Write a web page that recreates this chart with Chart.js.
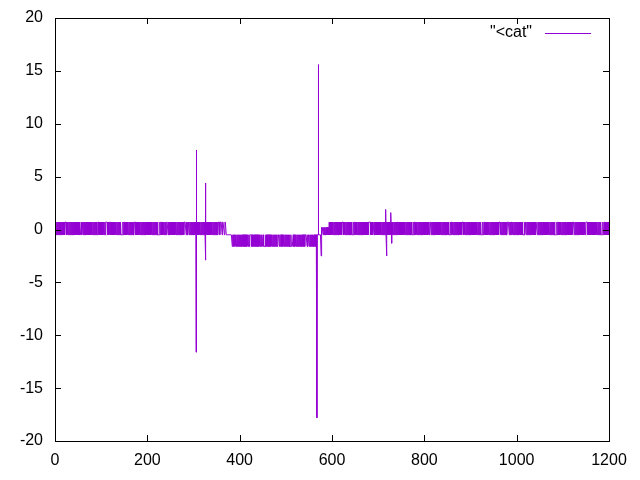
<!DOCTYPE html>
<html lang="en">
<head>
    <meta charset="UTF-8">
    <title>cat</title>
    <script src="https://cdn.jsdelivr.net/npm/chart.js@4.4.0/dist/chart.umd.min.js"></script>
    <style>
        html, body { margin: 0; padding: 0; background: #ffffff; }
        #wrap { width: 640px; height: 480px; }
    </style>
</head>
<body>
    <div id="wrap"><canvas id="catChart" width="640" height="480"></canvas></div>

    <script>
        // Levels (the trace mostly flips between two values)
        var levelValues = { H: 0.7, L: -0.5, M: 0.2, D: -1.6 };
        var sampleStep = 1;

        // One code per sample, groups of 10, one line per 100 x units
        var levelCodes = [
            "HLHLHLHLHL HLHLHLHLHL HLHHHLHLHL HLHLHLHLHL HLHLHLHLHL HLHLLLLHLH HLHLHLHLHL HLHLHLHLHL HLHLHLHLHL HLHHHLHLHL",
            "HLHLHLHLHL HHHHLHLHLH HLHLHLHLHL HLHLHLHLHL HLHLLLLHLH HLHLHLHLHL HLHLHLHLHL HLHHHLHLHL HLHLHLHLHL HLHLHLHLHL",
            "HLHLHLHLHL HLHLHLHLHL HLHLLLLHLH HLHLHLHLHL HLHHHLHLHL HLHLHLHLHL HLHLHLHLHL HLHLHLHLHL HHHHLHLHLH HLHLHLHLHL",
            "HLHLHLHLHL HLHLHLHLHL HLHLHLHLHL HLHLHLHLHL HLHLHLHLHL HLHLHHHLHH HHLHHHHLHH HLLLLLLLLL LLLLDLDLDL LDLDLDLDLD",
            "LDLDLDLDLD LDLDLDLDLD LDLLLLDLDL LDLDLDLDLD LDLDLDLDLD DLDDDDLDLD LDLDLDLDLD LDLDLDLDLD LDLLLLDLDL LDLDLDLDLD",
            "LDLDLDLDLD DLDDDDLDLD LDLDLDLDLD LDLDLDLDLD LDLLLLDLDL LDLDLDLDLD LDLDLDLDLL LLLLLLLMLM MLMLMLMLML MLMLHLHLHL",
            "HLHLHLHLHL HLHLHLHLHL HLHHHLHLHL HLHLHLHLHL HLHLLLLHLH HLHLHLHLHL HLHLHLHLHL HLHLHLHLHL HHHHLHLHLH HLHLHLHLHL",
            "HLHLHLHLHL HLHLHLHLHL HLHLHLHLHL HLHLHLHLHL HLHHHLHLHL HLHLHLHLHL HLHLHLHLHL HLHLLLLHLH HLHLHLHLHL HLHLHLHLHL",
            "HLHLHLHLHL HLHHHLHLHL HLHLHLHLHL HLHLHLHLHL HLHLHLHLHL HLHLLLLHLH HLHLHLHLHL HLHLHLHLHL HLHHHLHLHL HLHLHLHLHL",
            "HLHLHLHLHL HLHLHLHLHL HLHLLLLHLH HLHLHLHLHL HLHLHLHLHL HLHLHLHLHL HLHHHLHLHL HLHLHLHLHL HHHHLHLHLH HLHLHLHLHL",
            "HLHLHLHLHL HLHLLLLHLH HLHLHLHLHL HLHLHLHLHL HLHHHLHLHL HLHLHLHLHL HLHLHLHLHL HLHLHLHLHL HLHLLLLHLH HLHLHLHLHL",
            "HLHLHLHLHL HLHLHLHLHL HLHHHLHLHL HLHLHLHLHL HLHLHLHLHL HHHHLHLHLH HLHLHLHLHL HLHLHLHLHL HLHLLLLHLH HLHLHLHLHL",
            "H"
        ];

        // Isolated spikes
        var spikeX = [305.5, 306.5, 325.5, 326.5, 567.5, 570.5, 576.5, 716.5, 718.5, 727.5, 729.5];
        var spikeY = [-11.6, 7.5, 4.4, -2.9, -17.8, 15.6, -2.5, 1.9, -2.5, 1.6, -1.3];

        var xTicks = [0, 200, 400, 600, 800, 1000, 1200];
        var yTicks = [-20, -15, -10, -5, 0, 5, 10, 15, 20];
        var seriesLabel = '"<cat"';

        // build the point list
        var codes = levelCodes.join("").replace(/ /g, "");
        var points = [];
        for (var i = 0; i < codes.length; i++) {
            points.push({ x: i * sampleStep, y: levelValues[codes[i]] });
        }
        for (var k = 0; k < spikeX.length; k++) {
            points.push({ x: spikeX[k], y: spikeY[k] });
        }
        points.sort(function (a, b) { return a.x - b.x; });

        var lineColor = '#9400d3';
        var fontSpec = { family: '"Liberation Sans", Arial, sans-serif', size: 16 };

        // gnuplot style frame, inward ticks and key
        var gnuFrame = {
            id: 'gnuFrame',
            afterDraw: function (chart) {
                var ctx = chart.ctx;
                var a = chart.chartArea;
                var xs = chart.scales.x, ys = chart.scales.y;
                var tl = 6;
                ctx.save();
                ctx.strokeStyle = '#000000';
                ctx.lineWidth = 1;
                ctx.beginPath();
                xTicks.forEach(function (v) {
                    var px = Math.round(xs.getPixelForValue(v)) + 0.5;
                    ctx.moveTo(px, a.bottom); ctx.lineTo(px, a.bottom - tl);
                    ctx.moveTo(px, a.top); ctx.lineTo(px, a.top + tl);
                });
                yTicks.forEach(function (v) {
                    var py = Math.round(ys.getPixelForValue(v)) + 0.5;
                    ctx.moveTo(a.left, py); ctx.lineTo(a.left + tl, py);
                    ctx.moveTo(a.right, py); ctx.lineTo(a.right - tl, py);
                });
                ctx.stroke();
                ctx.strokeRect(Math.round(a.left) + 0.5, Math.round(a.top) + 0.5,
                    Math.round(a.right - a.left), Math.round(a.bottom - a.top));

                // key
                ctx.font = '16px ' + fontSpec.family;
                ctx.fillStyle = '#000000';
                ctx.textAlign = 'right';
                ctx.textBaseline = 'middle';
                ctx.fillText(seriesLabel, 532, 33);
                ctx.strokeStyle = lineColor;
                ctx.beginPath();
                ctx.moveTo(545, 33.5); ctx.lineTo(591, 33.5);
                ctx.stroke();
                ctx.restore();
            }
        };

        new Chart(document.getElementById('catChart'), {
            type: 'line',
            data: {
                datasets: [{
                    label: seriesLabel,
                    data: points,
                    borderColor: lineColor,
                    borderWidth: 1,
                    pointRadius: 0,
                    tension: 0,
                    fill: false
                }]
            },
            options: {
                responsive: false,
                animation: false,
                events: [],
                layout: { autoPadding: false, padding: { top: 18, right: 31, left: 0, bottom: 0 } },
                plugins: { legend: { display: false }, tooltip: { enabled: false } },
                scales: {
                    x: {
                        type: 'linear', min: 0, max: 1200,
                        afterFit: function (s) { s.height = 39; },
                        afterBuildTicks: function (s) { s.ticks = xTicks.map(function (v) { return { value: v }; }); },
                        grid: { display: false, drawTicks: false },
                        border: { display: false },
                        ticks: {
                            color: '#000000', font: fontSpec, padding: 10, maxRotation: 0,
                            callback: function (v) { return String(v); }
                        }
                    },
                    y: {
                        type: 'linear', min: -20, max: 20,
                        afterFit: function (s) { s.width = 55; s.paddingTop = 0; s.paddingBottom = 0; },
                        afterBuildTicks: function (s) { s.ticks = yTicks.map(function (v) { return { value: v }; }); },
                        grid: { display: false, drawTicks: false },
                        border: { display: false },
                        ticks: {
                            color: '#000000', font: fontSpec, padding: 12,
                            callback: function (v) { return String(v); }
                        }
                    }
                }
            },
            plugins: [gnuFrame]
        });
    </script>
</body>
</html>
